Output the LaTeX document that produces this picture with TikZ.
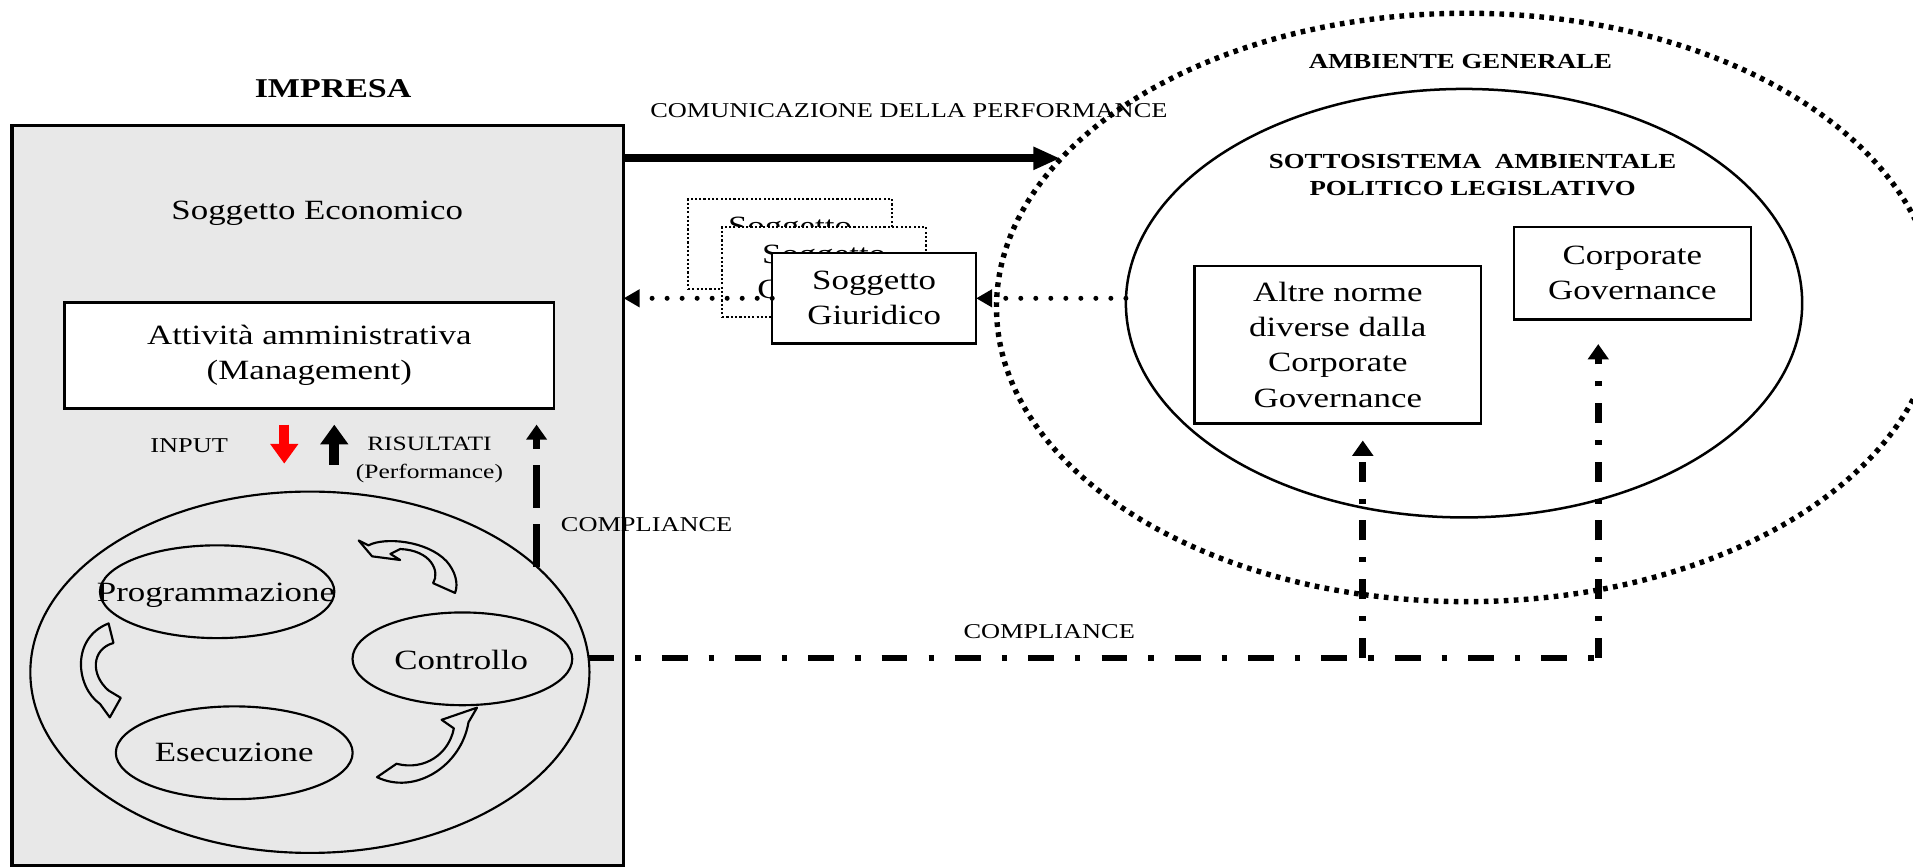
\documentclass[tikz,border=0pt]{standalone}
\usepackage{fontspec}
\setmainfont{Liberation Serif}[FakeStretch=1.25]
\usepackage{tikz}
\usetikzlibrary{arrows.meta,positioning,shapes.geometric,calc}
\definecolor{impfill}{RGB}{232,232,232}
\definecolor{inputred}{RGB}{255,0,0}

\begin{document}
\begin{tikzpicture}[x=0.012cm, y=-0.012cm,
        every node/.style={inner sep=0pt, outer sep=0pt},
        txt/.style={font=\fontsize{7.8}{9.8}\selectfont, align=center},
        lbl/.style={font=\fontsize{5.9}{7.8}\selectfont, align=center},
        ttl/.style={font=\bfseries\fontsize{6}{7.5}\selectfont, align=center},
        rbox/.style={txt, draw, line width=0.7pt, fill=white},
        sgbox/.style={rbox, minimum width=2.004cm, minimum height=0.888cm},
        ghost/.style={sgbox, line width=0.6pt, dash pattern=on 0.6pt off 0.6pt},
        phase/.style={draw, ellipse, line width=0.6pt},
        cycarrow/.style={line width=0.6pt, line join=round},
        dotline/.style={line width=1.4pt, line cap=round, dash pattern=on 0pt off 4.2pt,
            -{Triangle[length=4.5pt,width=4.8pt]}},
        cplh/.style={line width=1.7pt, dash pattern=on 7.2pt off 5.9pt on 1.5pt off 5.9pt},
        cplv/.style={line width=2pt, dash pattern=on 5.6pt off 4.7pt on 1.4pt off 4.7pt,
            -{Triangle[length=4.3pt,width=5.7pt]}},
        blockarrow/.style={line width=2.7pt, -{Triangle[length=5.5pt,width=7.5pt]}}
    ]
    \useasboundingbox (0,0) rectangle (1568,710);

    % draw environment
    \node[ellipse, draw, line width=1.5pt, dash pattern=on 1.3pt off 1.5pt,
        minimum width=9.24cm, minimum height=5.784cm] (ambgen) at (1202,252) {};
    \node[ttl] (ambgentxt) at (1197,50) {AMBIENTE GENERALE};
    \node[phase, line width=0.7pt, minimum width=6.648cm, minimum height=4.212cm] (sgamb) at (1200,248.5) {};
    \node[ttl] (sgambtxt) at (1207,143.5) {SOTTOSISTEMA\ \ AMBIENTALE\\POLITICO LEGISLATIVO};
    \node[rbox, font=\fontsize{7.8}{9.9}\selectfont, minimum width=2.82cm, minimum height=1.548cm] (altre) at (1096.5,282.5)
        {Altre norme\\diverse dalla\\Corporate\\Governance};
    \node[rbox, minimum width=2.328cm, minimum height=0.912cm] (corp) at (1338,224) {Corporate\\Governance};

    % draw impresa
    \node[font=\bfseries\fontsize{7.6}{9}\selectfont] (impresa) at (273,73) {IMPRESA};
    \node[draw, line width=0.9pt, fill=impfill, minimum width=6.012cm, minimum height=7.272cm] (impbox) at (260.5,406) {};
    \node[txt] (sogeco) at (260,175) {Soggetto Economico};
    \node[rbox, minimum width=4.812cm, minimum height=1.044cm] (mgmt) at (253.5,291.5) {Attività amministrativa\\(Management)};

    % draw cycle
    \node[phase, minimum width=5.496cm, minimum height=3.552cm] (ciclo) at (254,551) {};
    \node[phase, minimum width=2.304cm, minimum height=0.912cm] (prog) at (178,485) {};
    \node[phase, minimum width=2.16cm, minimum height=0.912cm] (contr) at (379,540) {};
    \node[phase, minimum width=2.328cm, minimum height=0.912cm] (esec) at (192,617) {};
    \node[txt] (progtxt) at (177,488) {Programmazione};
    \node[txt] (contrtxt) at (378,541) {Controllo};
    \node[txt] (esectxt) at (192,617) {Esecuzione};
    \draw[cycarrow] (294,443) -- (302,447) .. controls (315,440) and (350,443) .. (366,460)
        .. controls (373,468) and (376,478) .. (373,486) -- (355,478)
        .. controls (361,468) and (353,451) .. (328,450) -- (320,454) -- (328,459) -- (305,456) -- cycle;
    \draw[cycarrow] (90,588) -- (82,577) .. controls (62,563) and (58,523) .. (89,511) -- (93,527)
        .. controls (75,532) and (74,553) .. (89,566) -- (99,572) -- cycle;
    \draw[cycarrow] (391,580) -- (384,592) .. controls (378,628) and (340,652) .. (309,637) -- (325,626)
        .. controls (348,632) and (368,618) .. (372,597) -- (362,590) -- cycle;

    % input / results
    \node[lbl] (input) at (155,365) {INPUT};
    \node[lbl, font=\fontsize{5.7}{7.8}\selectfont] (ris) at (352,377) {RISULTATI\\(Performance)};
    \draw[blockarrow, inputred] ($(mgmt.south)+(-20.5,13)$) -- ++(0,32);
    \draw[blockarrow] ($(mgmt.south)+(20.5,46)$) -- ++(0,-33);

    % draw soggetto giuridico
    \node[ghost] (sg1) at (647.5,200) {Soggetto\\Giuridico};
    \node[ghost] (sg2) at (675.5,223) {Soggetto\\Giuridico};
    \node[sgbox] (sg3) at (716.5,244.5) {Soggetto\\Giuridico};

    % communication
    \coordinate (commstart) at ([yshift=-9.2pt]impbox.north east);
    \draw[line width=2.3pt, -{Triangle[length=7.5pt,width=6pt]}] (commstart) -- (commstart -| ambgen.160);
    \node[lbl] (commtxt) at (745,91) {COMUNICAZIONE DELLA PERFORMANCE};
    \draw[dotline] (sg3.west) -- (sg3.west -| impbox.east);
    \draw[dotline] (sg3.east -| sgamb.west) -- (sg3.east);

    % compliance
    \draw[line width=1.9pt, dash pattern=on 12pt off 4.5pt, -{Triangle[length=4.2pt,width=5.6pt]}]
        (ciclo.25) -- ($(ciclo.25 |- mgmt.south)+(0,13)$);
    \node[lbl] (cpltxt) at (530,430) {COMPLIANCE};
    \coordinate (xaltre) at (1117,0);
    \coordinate (xcorp) at (1310,0);
    \coordinate (cpl) at (ciclo.3 -| xaltre);
    \coordinate (cpr) at (ciclo.3 -| xcorp);
    \draw[cplh] (ciclo.3) -- (cpr);
    \draw[cplv] (cpl) -- ($(cpl |- altre.south)+(0,14)$);
    \draw[cplv] (cpr) -- ($(cpr |- corp.south)+(0,20)$);
    \node[lbl] (cpltxt2) at (860,518) {COMPLIANCE};
\end{tikzpicture}
\end{document}
